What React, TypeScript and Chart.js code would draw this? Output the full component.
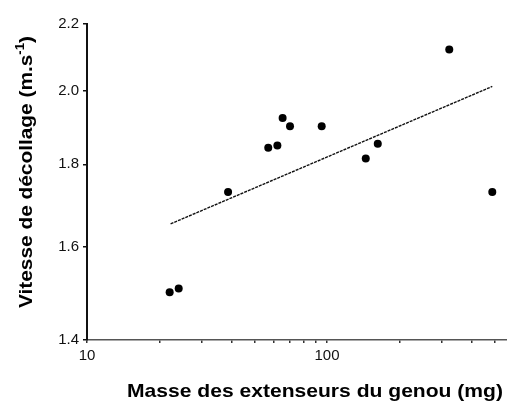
import React, { useEffect, useRef } from "react";
import { Chart, registerables } from "chart.js";

Chart.register(...registerables);

// Data
const masses: number[] = [22.1, 24.1, 38.7, 56.9, 62.1, 65.3, 70.1, 95.0, 145, 162.7, 323, 488];
const vitesses: number[] = [1.499, 1.507, 1.73, 1.843, 1.849, 1.923, 1.901, 1.901, 1.815, 1.854, 2.121, 1.73];
const fitX: number[] = [22.3, 488];
const fitY: number[] = [1.653, 2.012];
const yTicks: number[] = [1.4, 1.6, 1.8, 2.0, 2.2];
const xTicks: number[] = [10, 20, 30, 40, 50, 60, 70, 80, 90, 100, 200, 300, 400, 500];
const xLabelled: number[] = [10, 100];
const xTitle = "Masse des extenseurs du genou (mg)";
const yTitleMain = "Vitesse de décollage (m.s";
const yTitleSup = "-1";
const yTitleEnd = ")";

const FONT = "'Liberation Sans', Arial, Helvetica, sans-serif";

const titlePlugin = {
  id: "axisTitles",
  afterDraw(chart: any) {
    const ctx = chart.ctx as CanvasRenderingContext2D;
    ctx.save();
    ctx.fillStyle = "#000";
    ctx.textBaseline = "alphabetic";
    // x title
    ctx.font = `bold 19px ${FONT}`;
    const wx = ctx.measureText(xTitle).width;
    const sx = 376 / wx;
    ctx.save();
    ctx.translate(315, 397);
    ctx.scale(sx, 1);
    ctx.textAlign = "center";
    ctx.fillText(xTitle, 0, 0);
    ctx.restore();
    // y title (rotated, with superscript)
    ctx.font = `bold 19px ${FONT}`;
    const w1 = ctx.measureText(yTitleMain).width;
    const w3 = ctx.measureText(yTitleEnd).width;
    ctx.font = `bold 12px ${FONT}`;
    const w2 = ctx.measureText(yTitleSup).width;
    const total = w1 + w2 + w3;
    const sy = 272 / total;
    ctx.save();
    ctx.translate(32, 172);
    ctx.rotate(-Math.PI / 2);
    ctx.scale(sy, 1);
    ctx.textAlign = "left";
    let x0 = -total / 2;
    ctx.font = `bold 19px ${FONT}`;
    ctx.fillText(yTitleMain, x0, 0);
    ctx.font = `bold 12px ${FONT}`;
    ctx.fillText(yTitleSup, x0 + w1, -8);
    ctx.font = `bold 19px ${FONT}`;
    ctx.fillText(yTitleEnd, x0 + w1 + w2, 0);
    ctx.restore();
    ctx.restore();
  },
};

export default function App() {
  const ref = useRef<HTMLCanvasElement | null>(null);
  useEffect(() => {
    if (!ref.current) return;
    const chart = new Chart(ref.current, {
      type: "scatter",
      data: {
        datasets: [
          {
            label: "Mesures",
            data: masses.map((m, i) => ({ x: m, y: vitesses[i] })),
            backgroundColor: "#000",
            borderColor: "#000",
            pointRadius: 4,
            pointBorderWidth: 0,
            order: 0,
          },
          {
            label: "Régression",
            type: "line",
            data: fitX.map((m, i) => ({ x: m, y: fitY[i] })),
            borderColor: "#111",
            borderWidth: 1.4,
            borderDash: [3, 1],
            pointRadius: 0,
            showLine: true,
            fill: false,
            order: 1,
          } as any,
        ],
      },
      options: {
        responsive: false,
        animation: false,
        layout: { padding: { left: 0, top: 24, right: 0, bottom: 0 } },
        plugins: {
          legend: { display: false },
          tooltip: { enabled: false },
          title: { display: false },
        },
        scales: {
          x: {
            type: "logarithmic",
            min: 10,
            max: 562,
            afterBuildTicks: (scale: any) => {
              scale.ticks = xTicks.map((v) => ({ value: v, major: xLabelled.includes(v) }));
            },
            afterFit: (scale: any) => {
              scale.height = 61;
            },
            ticks: {
              autoSkip: false,
              maxRotation: 0,
              padding: 4,
              color: "#111",
              font: { family: FONT, size: 15 },
              callback: (v: any) => (xLabelled.includes(Number(v)) ? String(v) : ""),
            },
            grid: {
              drawOnChartArea: false,
              drawTicks: true,
              tickLength: 3,
              color: "#333",
              lineWidth: 1.5,
            },
            border: { display: true, color: "#555", width: 1.5 },
          },
          y: {
            type: "logarithmic",
            min: 1.4,
            max: 2.2,
            afterBuildTicks: (scale: any) => {
              scale.ticks = yTicks.map((v) => ({ value: v }));
            },
            afterFit: (scale: any) => {
              scale.width = 87;
            },
            ticks: {
              autoSkip: false,
              padding: 4,
              color: "#111",
              font: { family: FONT, size: 15 },
              callback: (v: any) => Number(v).toFixed(1),
            },
            grid: {
              drawOnChartArea: false,
              drawTicks: true,
              tickLength: 4,
              color: "#111",
              lineWidth: 1.5,
            },
            border: { display: true, color: "#111", width: 2 },
          },
        },
      },
      plugins: [titlePlugin],
    });
    return () => chart.destroy();
  }, []);
  return (
    <div style={{ position: "fixed", left: 0, top: 0, width: 507, height: 401, background: "#fff", overflow: "hidden" }}>
      <canvas ref={ref} width={511} height={401} />
    </div>
  );
}
